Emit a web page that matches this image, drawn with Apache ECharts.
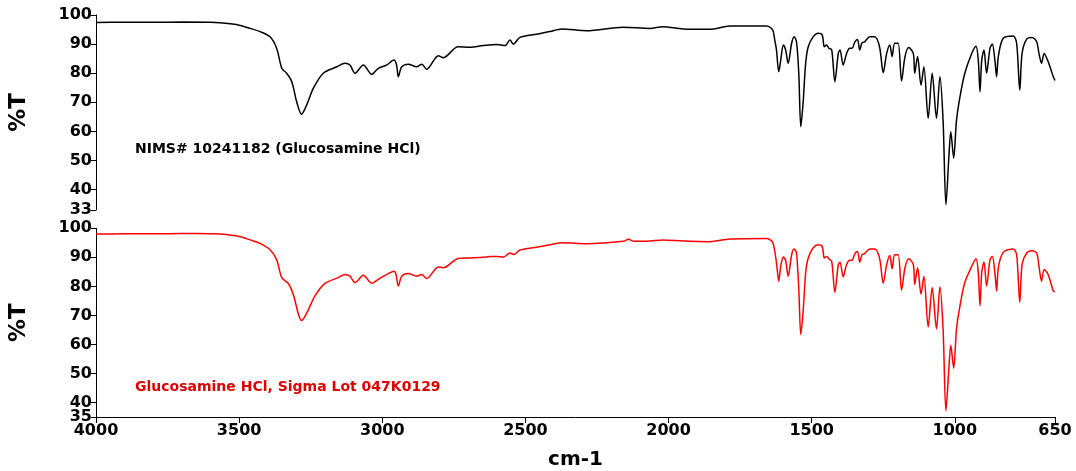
<!DOCTYPE html>
<html>
<head>
<meta charset="utf-8">
<script src="https://cdn.jsdelivr.net/npm/echarts@6/dist/echarts.min.js"></script>
<style>html,body{margin:0;padding:0;background:#fff}#c{width:1076px;height:471px}</style>
</head>
<body>
<div id="c"></div>
<script>
// ---- DATA ----
var topWavenumbers = [4000,3900,3800,3700,3600,3567,3500,3462,3427,3392,3369,3351,3334,3316,3299,3282,3264,3241,3206,3159,3130,3113,3095,3066,3037,3014,2985,2959,2950,2944,2932,2909,2880,2862,2845,2804,2787,2735,2694,2647,2600,2571,2554,2542,2519,2461,2414,2373,2286,2158,2065,2019,1949,1856,1786,1657,1636,1629,1623,1615,1608,1599,1591,1582,1570,1561,1553,1545,1538,1530,1521,1512,1495,1477,1463,1456,1448,1440,1430,1419,1407,1401,1390,1378,1367,1359,1349,1340,1332,1324,1315,1297,1280,1263,1250,1238,1227,1219,1210,1198,1186,1174,1161,1145,1140,1130,1118,1108,1093,1079,1064,1052,1041,1031,1020,1014,1004,994,982,965,941,926,918,912,906,898,889,877,869,860,854,848,831,796,784,773,765,749,730,714,706,697,688,674,656,650];
var topT = [97.4,97.5,97.5,97.6,97.5,97.3,96.5,95.4,94.3,92.5,88.6,81.7,80.0,77.1,70.2,65.9,69.1,74.8,80.0,82.2,83.4,82.8,80.0,82.8,79.6,81.7,82.8,84.5,82.8,78.8,82.2,83.1,82.2,83.1,81.4,86.0,85.3,89.1,88.9,89.5,89.9,89.5,91.4,90.0,92.3,93.4,94.3,95.2,94.6,95.8,95.4,96.0,95.2,95.1,96.2,96.2,94.8,91.4,88.0,80.5,84.5,89.7,88.0,83.4,90.3,92.5,90.8,80.0,61.6,69.7,83.4,89.1,92.5,93.7,93.1,89.1,89.7,88.6,88.0,77.1,86.8,88.0,82.8,86.8,88.6,88.6,90.8,91.6,88.0,90.5,90.8,92.5,92.5,89.1,80.2,86.8,89.7,85.7,90.3,90.3,77.3,85.7,88.8,86.8,80.0,85.7,75.9,82.2,64.5,80.0,64.5,78.8,63.9,34.8,52.5,59.9,50.8,63.9,71.9,80.0,86.8,89.3,84.5,73.6,84.5,88.0,80.0,88.6,90.0,84.5,78.8,85.7,92.0,92.8,90.3,74.2,86.8,91.7,92.3,90.8,86.8,83.4,86.8,84.0,78.8,77.5];

var bottomWavenumbers = [4000,3900,3800,3700,3600,3567,3500,3462,3427,3392,3369,3351,3328,3311,3293,3282,3264,3235,3200,3154,3130,3113,3095,3066,3037,3008,2979,2959,2952,2944,2932,2909,2880,2862,2845,2804,2787,2735,2694,2647,2624,2600,2577,2554,2540,2519,2461,2414,2373,2286,2158,2140,2120,2065,2019,1949,1856,1786,1657,1636,1623,1615,1608,1599,1591,1582,1570,1561,1553,1545,1538,1530,1521,1512,1495,1477,1463,1456,1448,1440,1430,1419,1407,1401,1390,1378,1367,1359,1349,1340,1332,1324,1315,1297,1280,1263,1250,1238,1227,1219,1210,1198,1186,1174,1161,1145,1140,1130,1118,1108,1093,1079,1064,1052,1041,1031,1020,1014,1004,994,982,965,941,926,918,912,906,898,889,877,869,860,854,848,831,796,784,773,765,749,730,714,706,697,688,674,656,650];
var bottomT = [98.0,98.1,98.1,98.2,98.1,98.0,97.2,96.0,94.8,92.6,89.2,83.0,81.0,77.3,70.5,68.2,70.8,76.7,81.0,83.0,84.1,83.5,81.3,83.8,81.1,82.8,84.4,85.2,84.1,80.1,83.5,84.4,83.5,84.1,82.7,86.7,86.4,89.6,89.8,90.0,90.3,90.3,90.1,91.5,91.0,92.5,93.5,94.3,95.0,94.7,95.5,96.2,95.5,95.6,96.0,95.6,95.4,96.3,96.5,95.1,88.1,81.8,86.9,90.1,89.0,83.5,90.9,92.9,91.5,79.0,63.4,71.1,84.7,89.8,93.2,94.3,93.7,89.8,90.3,89.5,88.6,77.9,87.5,88.3,83.3,87.5,89.0,89.0,91.3,92.0,88.3,90.9,91.3,92.9,92.9,89.8,81.1,87.5,90.6,86.1,90.9,90.9,78.7,86.4,89.5,87.5,80.7,86.4,77.3,83.5,66.0,79.6,65.4,79.9,65.4,37.1,52.9,59.7,51.8,65.4,73.3,81.3,86.9,89.5,84.7,73.3,84.7,88.4,80.1,89.2,90.3,84.7,78.4,86.4,91.7,92.9,90.9,74.5,87.5,91.5,92.3,91.5,86.9,81.8,85.8,84.1,78.4,78.1];

var xTickLabels = [4000,3500,3000,2500,2000,1500,1000,650];
var topYTicks = [33,40,50,60,70,80,90,100];
var bottomYTicks = [35,40,50,60,70,80,90,100];
var bottomYMinLabel = [35];
var bottomYOtherLabels = [40,50,60,70,80,90,100];
var topLabel = 'NIMS# 10241182 (Glucosamine HCl)';
var bottomLabel = 'Glucosamine HCl, Sigma Lot 047K0129';
var yName = '%T';
var xName = 'cm-1';

function zip(a, b) { return a.map(function (w, i) { return [w, b[i]]; }); }
function plain(v) { return String(Math.round(v)); }

var FONT = 'DejaVu Sans';
function lbl(values) {
  return {
    customValues: values, margin: 4, formatter: plain,
    showMinLabel: true, showMaxLabel: true, hideOverlap: false,
    fontFamily: FONT, fontWeight: 'bold', fontSize: 16, color: '#000'
  };
}
var nameStyle = { fontFamily: FONT, fontWeight: 'bold', fontSize: 23, color: '#000' };

var chart = echarts.init(document.getElementById('c'), null, { renderer: 'canvas' });
chart.setOption({
  animation: false,
  backgroundColor: '#fff',
  grid: [
    { left: 96, right: 21, top: 15, height: 195 },
    { left: 96, right: 21, top: 228.3, height: 190.7 }
  ],
  xAxis: [
    { gridIndex: 0, type: 'value', min: 650, max: 4000, inverse: true, show: false },
    {
      gridIndex: 1, type: 'value', min: 650, max: 4000, inverse: true,
      axisLine: { lineStyle: { color: '#000', width: 1 } },
      axisTick: { show: true, length: 6, customValues: xTickLabels, lineStyle: { color: '#000' } },
      axisLabel: Object.assign(lbl(xTickLabels), { margin: 6 }),
      splitLine: { show: false },
      name: xName, nameLocation: 'middle', nameGap: 33,
      nameTextStyle: { fontFamily: FONT, fontWeight: 'bold', fontSize: 20, color: '#000' }
    }
  ],
  yAxis: [
    {
      gridIndex: 0, type: 'value', min: 33, max: 100,
      axisLine: { show: true, lineStyle: { color: '#000', width: 1 } },
      axisTick: { show: true, length: 5, customValues: topYTicks, lineStyle: { color: '#000' } },
      axisLabel: lbl(topYTicks),
      splitLine: { show: false },
      name: yName, nameLocation: 'middle', nameRotate: 90, nameGap: 65,
      nameTextStyle: nameStyle
    },
    {
      gridIndex: 1, type: 'value', min: 35, max: 100,
      axisLine: { show: true, lineStyle: { color: '#000', width: 1 } },
      axisTick: { show: true, length: 5, customValues: bottomYTicks, lineStyle: { color: '#000' } },
      axisLabel: lbl(bottomYOtherLabels),
      splitLine: { show: false },
      name: yName, nameLocation: 'middle', nameRotate: 90, nameGap: 65,
      nameTextStyle: nameStyle
    },
    {
      gridIndex: 1, type: 'value', min: 35, max: 100, position: 'left',
      axisLine: { show: false }, axisTick: { show: false },
      axisLabel: lbl(bottomYMinLabel),
      splitLine: { show: false }
    }
  ],
  graphic: [
    { type: 'text', left: 135, top: 142, style: { text: topLabel, fill: '#000', font: 'bold 14px "DejaVu Sans"' } },
    { type: 'text', left: 135, top: 380, style: { text: bottomLabel, fill: '#dd0000', font: 'bold 14px "DejaVu Sans"' } }
  ],
  series: [
    {
      type: 'line', xAxisIndex: 0, yAxisIndex: 0, data: zip(topWavenumbers, topT),
      showSymbol: false, smooth: 0.3, lineStyle: { color: '#000', width: 1.5 }
    },
    {
      type: 'line', xAxisIndex: 1, yAxisIndex: 1, data: zip(bottomWavenumbers, bottomT),
      showSymbol: false, smooth: 0.3, lineStyle: { color: '#ff0000', width: 1.5 }
    }
  ]
});
</script>
</body>
</html>
